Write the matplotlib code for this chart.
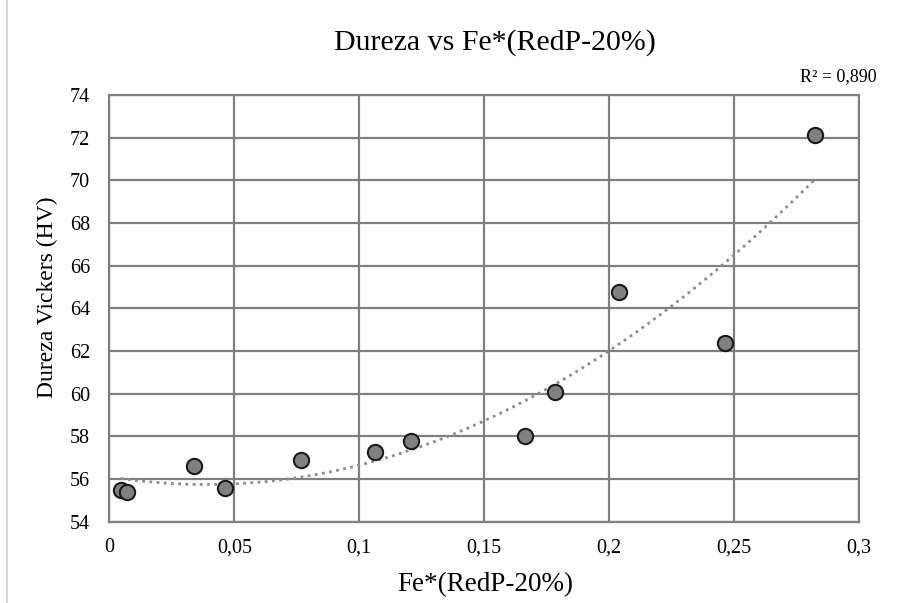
import numpy as np
import matplotlib
matplotlib.use('Agg')
import matplotlib.pyplot as plt
from matplotlib.lines import Line2D

# data
fe_red = [0.0045, 0.0069, 0.0338, 0.0463, 0.0767, 0.1062, 0.1205,
          0.1662, 0.1783, 0.2039, 0.2463, 0.2822]
dureza = [55.49, 55.39, 56.62, 55.60, 56.90, 57.26, 57.76,
          58.04, 60.06, 64.78, 62.37, 72.12]
x_ticks = [0, 0.05, 0.1, 0.15, 0.2, 0.25, 0.3]
x_tick_labels = ['0', '0,05', '0,1', '0,15', '0,2', '0,25', '0,3']
y_ticks = list(range(54, 75, 2))
r2_label = 'R² = 0,890'

c_strGrid = '#808080'
c_strPoint = '#808080'
c_strTrend = '#8c8c8c'

W, H = 904.0, 603.0

plt.rcParams['font.family'] = ['Liberation Serif', 'DejaVu Serif']

fig = plt.figure(figsize=(W / 100, H / 100), dpi=100)
ax = fig.add_axes([0.1211, 0.1348, 0.8291, 0.7077])

# polynomial (order 2) trendline, like Excel
coef = np.polyfit(fe_red, dureza, 2)
xs = np.linspace(min(fe_red), max(fe_red), 200)
ax.plot(xs, np.polyval(coef, xs), color=c_strTrend, linestyle=(0, (1, 1.6)),
        linewidth=2, zorder=2)

ax.plot(fe_red, dureza, linestyle='none', marker='o', markersize=11,
        markerfacecolor=c_strPoint, markeredgecolor='#1a1a1a',
        markeredgewidth=1.5, zorder=3)

ax.set_xlim(0, 0.3)
ax.set_ylim(54, 74)
ax.set_xticks(x_ticks)
ax.set_xticklabels(x_tick_labels)
ax.set_yticks(y_ticks)
ax.tick_params(length=0, labelsize=14.5)
ax.tick_params(axis='x', pad=12)
ax.tick_params(axis='y', pad=14)
ax.grid(True, color=c_strGrid, linewidth=1.6)
ax.set_axisbelow(True)
for s in ax.spines.values():
   s.set_color(c_strGrid)
   s.set_linewidth(1.6)

# labels and title placed in pixel positions of the reference
fig.text(485 / W, 1 - 591 / H, 'Fe*(RedP-20%)', fontsize=19.5,
         ha='center', va='baseline')
fig.text(47.5 / W, 1 - 297.5 / H, 'Dureza Vickers (HV)', fontsize=17,
         ha='center', va='center', rotation=90)
fig.text(495 / W, 1 - 50 / H, 'Dureza vs Fe*(RedP-20%)', fontsize=21.5,
         ha='center', va='baseline')
fig.text(800 / W, 1 - 81 / H, r2_label, fontsize=13, ha='left', va='baseline')

# chart-area border on the left edge
fig.add_artist(Line2D([0.008, 0.008], [0.0, 1.0], color='#d9d9d9',
                      linewidth=1.5, transform=fig.transFigure))

fig.savefig('out.png', dpi=100)
